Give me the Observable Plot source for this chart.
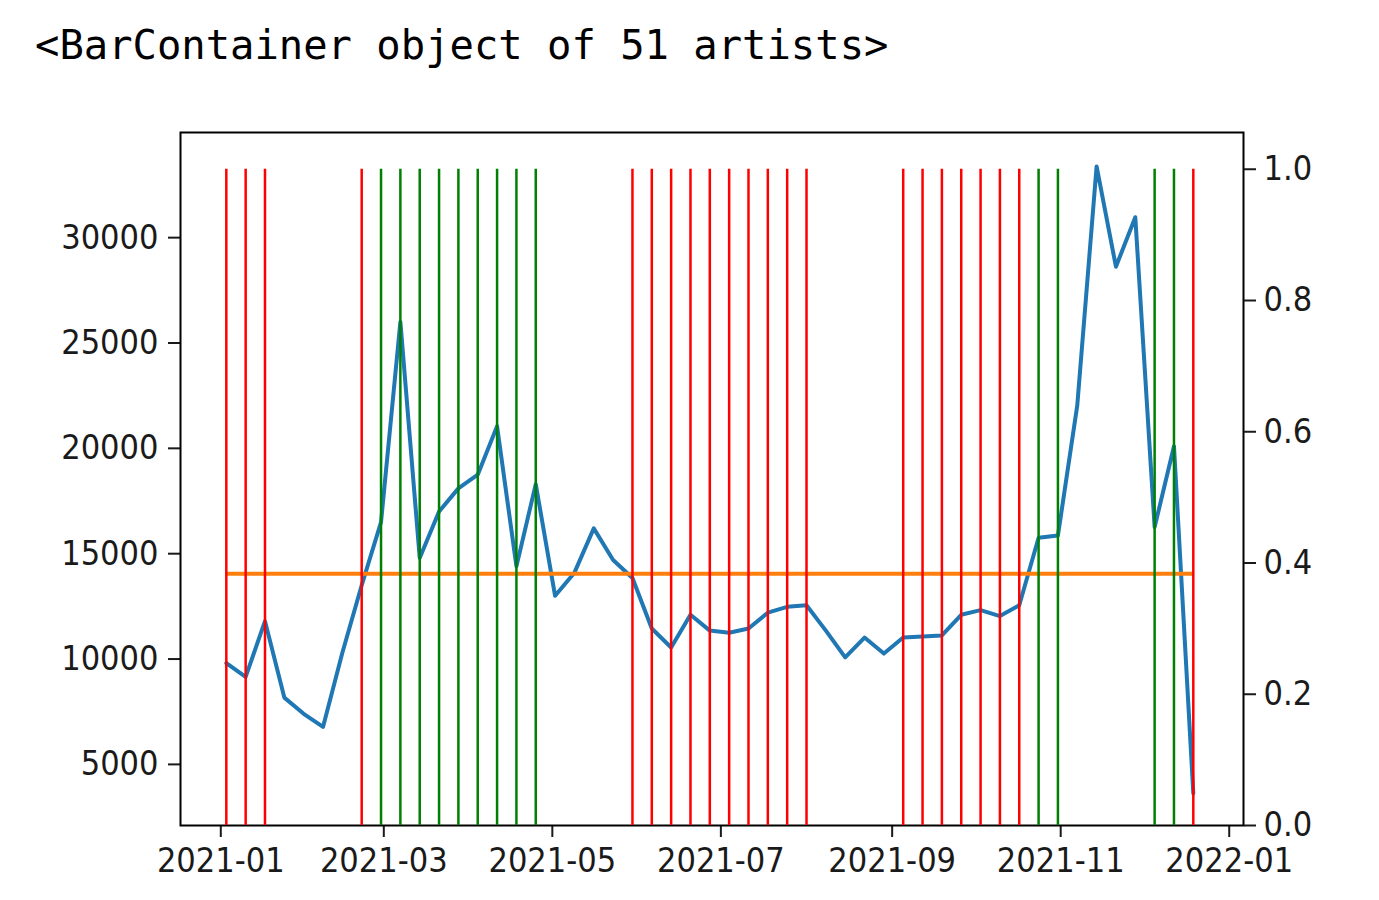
<!DOCTYPE html>
<html>
<head>
<meta charset="utf-8">
<script src="https://cdn.jsdelivr.net/npm/d3@7"></script>
<script src="https://cdn.jsdelivr.net/npm/@observablehq/plot@0.6"></script>
<style>
  body { margin: 0; background: white; }
  #wrap { position: relative; width: 1379px; height: 900px; }
  #title { position: absolute; left: 35px; top: 25px; font-family: 'DejaVu Sans Mono', 'Liberation Mono', monospace; font-size: 40.5px; line-height: 40.5px; color: #000; white-space: pre; }
  #chart { position: absolute; left: 0; top: 90px; width: 1379px; height: 810px; }
  #chart svg { position: absolute; left: 0; top: 0; }
</style>
</head>
<body>
<div id="wrap">
  <div id="title">&lt;BarContainer object of 51 artists&gt;</div>
  <div id="chart"></div>
</div>
<script>
const weeks = [
  "2021-01-03","2021-01-10","2021-01-17","2021-01-24","2021-01-31",
  "2021-02-07","2021-02-14","2021-02-21","2021-02-28",
  "2021-03-07","2021-03-14","2021-03-21","2021-03-28",
  "2021-04-04","2021-04-11","2021-04-18","2021-04-25",
  "2021-05-02","2021-05-09","2021-05-16","2021-05-23","2021-05-30",
  "2021-06-06","2021-06-13","2021-06-20","2021-06-27",
  "2021-07-04","2021-07-11","2021-07-18","2021-07-25",
  "2021-08-01","2021-08-08","2021-08-15","2021-08-22","2021-08-29",
  "2021-09-05","2021-09-12","2021-09-19","2021-09-26",
  "2021-10-03","2021-10-10","2021-10-17","2021-10-24","2021-10-31",
  "2021-11-07","2021-11-14","2021-11-21","2021-11-28",
  "2021-12-05","2021-12-12","2021-12-19"
];
const values = [
  9810, 9150, 11800, 8170, 7400, 6780, 10300, 13500, 16500, 26000,
  14800, 17000, 18100, 18750, 21050, 14400, 18300, 13000, 14100, 16200,
  14700, 13850, 11450, 10550, 12100, 11350, 11250, 11450, 12200, 12480,
  12550, 11350, 10080, 11020, 10260, 11020, 11070, 11120, 12100, 12320,
  12040, 12550, 15760, 15860, 22040, 33380, 28620, 30970, 16260, 20100,
  3620
];
const mean_value = 14050;
const bar_heights = [
  1,1,1,0,0,0,0,1,1,1, 1,1,1,1,1,1,1,0,0,0,
  0,1,1,1,1,1,1,1,1,1, 1,0,0,0,0,1,1,1,1,1,
  1,1,1,1,0,0,0,0,1,1, 1
];
const bar_colors = [
  "red","red","red","red","red","red","red","red","green","green",
  "green","green","green","green","green","green","green","red","red","red",
  "red","red","red","red","red","red","red","red","red","red",
  "red","red","red","red","red","red","red","red","red","red",
  "red","red","green","green","red","red","red","red","green","green",
  "red"
];
const left_ticks = [5000, 10000, 15000, 20000, 25000, 30000];
const right_ticks = [0.0, 0.2, 0.4, 0.6, 0.8, 1.0];
const x_ticks = ["2021-01-01","2021-03-01","2021-05-01","2021-07-01","2021-09-01","2021-11-01","2022-01-01"];

const parse = d3.utcParse("%Y-%m-%d");
const data = weeks.map((w, i) => ({date: parse(w), value: values[i], h: bar_heights[i], color: bar_colors[i]}));
const xDomain = [new Date(Date.UTC(2020, 11, 17, 10)), new Date(Date.UTC(2022, 0, 6, 4))];

const common = {
  width: 1379, height: 810,
  marginTop: 42, marginBottom: 75, marginLeft: 180, marginRight: 136,
  style: {background: "transparent", fontFamily: "'DejaVu Sans Condensed', 'DejaVu Sans', sans-serif", fontStretch: "condensed", fontSize: "34px", color: "#1a1a1a"}
};

const linePlot = Plot.plot({
  ...common,
  x: {type: "utc", domain: xDomain},
  y: {domain: [2100, 34990]},
  marks: [
    Plot.lineY(data, {x: "date", y: "value", stroke: "#1f77b4", strokeWidth: 4}),
    Plot.ruleY([mean_value], {x1: data[0].date, x2: data[data.length - 1].date, stroke: "#ff7f0e", strokeWidth: 4}),
    Plot.axisY(left_ticks, {anchor: "left", tickSize: 12, tickPadding: 10, strokeWidth: 2, tickFormat: d => String(d), label: null}),
    Plot.axisX(x_ticks.map(parse), {anchor: "bottom", tickSize: 12, tickPadding: 10, strokeWidth: 2, tickFormat: d3.utcFormat("%Y-%m"), label: null}),
    Plot.frame({stroke: "#000", strokeWidth: 2})
  ]
});

const barPlot = Plot.plot({
  ...common,
  x: {type: "utc", domain: xDomain, axis: null},
  y: {domain: [0, 1.056]},
  marks: [
    Plot.ruleX(data.filter(d => d.h > 0), {x: "date", y1: 0, y2: "h", stroke: "color", strokeWidth: 2.5}),
    Plot.axisY(right_ticks, {anchor: "right", tickSize: 12, tickPadding: 8, strokeWidth: 2, tickFormat: d3.format(".1f"), label: null})
  ]
});

const chart = document.getElementById("chart");
chart.appendChild(linePlot);
chart.appendChild(barPlot);
</script>
</body>
</html>
